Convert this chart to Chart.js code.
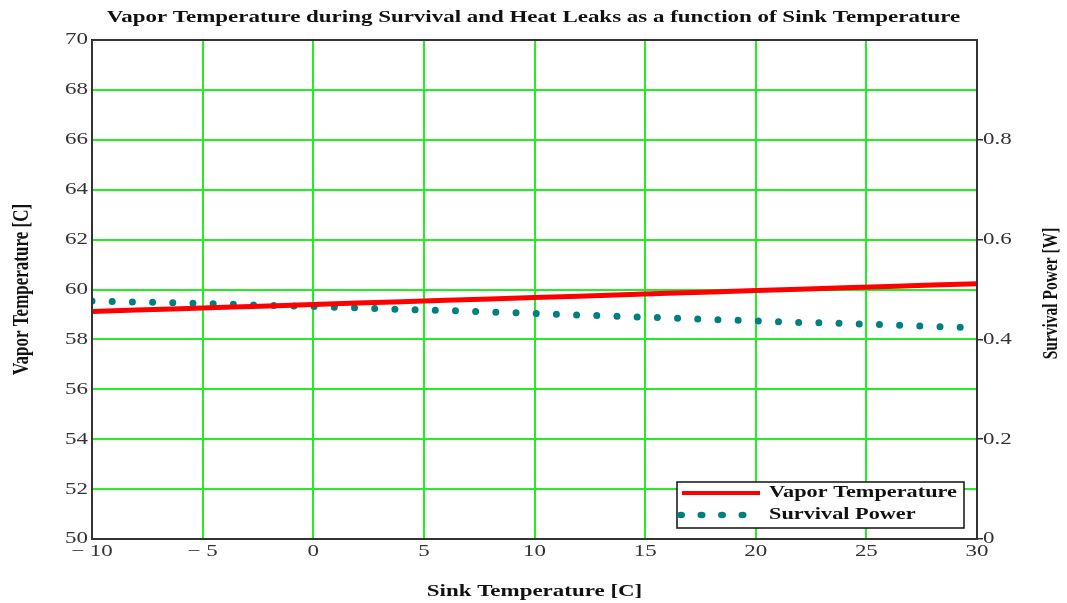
<!DOCTYPE html>
<html>
<head>
<meta charset="utf-8">
<script src="https://cdn.jsdelivr.net/npm/chart.js@4"></script>
<style>
  html, body { margin: 0; padding: 0; background: #fff; }
  #wrap { width: 1067px; height: 603px; }
</style>
</head>
<body>
<div id="wrap"><canvas id="canvas-vapor"></canvas></div>
<script>
// values
const sinkTemp = [-10, -8, -6, -4, -2, 0, 2, 4, 6, 8, 10, 12, 14, 16, 18, 20, 22, 24, 26, 28, 30];
const vaporTemp = [59.12, 59.18, 59.23, 59.29, 59.34, 59.40, 59.46, 59.51, 59.57, 59.62, 59.68,
                   59.73, 59.79, 59.85, 59.90, 59.96, 60.01, 60.07, 60.12, 60.18, 60.23];
const survivalPower = [0.477, 0.475, 0.473, 0.471, 0.468, 0.466, 0.463, 0.460, 0.458, 0.455, 0.452,
                       0.449, 0.446, 0.443, 0.440, 0.437, 0.434, 0.432, 0.429, 0.426, 0.423];
const seriesNames = ['Vapor Temperature', 'Survival Power'];

const serif = "'Liberation Serif', 'Times New Roman', serif";
const gridGreen = '#22ee22';
const textStretch = 1.35; // the original's lettering is wide

// widen every label horizontally on screen, around its anchor point
const stretchText = {
    id: 'stretchText',
    beforeInit(chart) {
        const c = chart.ctx;
        const orig = c.fillText.bind(c);
        c.fillText = function (text, x, y, maxWidth) {
            const m = c.getTransform();
            const p = m.transformPoint(new DOMPoint(x, y));
            c.save();
            c.setTransform(new DOMMatrix().translate(p.x, p.y).scale(textStretch, 1).translate(-p.x, -p.y).multiply(m));
            if (maxWidth === undefined) orig(text, x, y);
            else orig(text, x, y, maxWidth);
            c.restore();
        };
    }
};

const boxAndLegend = {
    id: 'boxAndLegend',
    afterDraw(chart) {
        const ctx = chart.ctx;
        const a = chart.chartArea;
        ctx.save();
        ctx.strokeStyle = '#333';
        ctx.lineWidth = 2;
        ctx.strokeRect(a.left, a.top, a.right - a.left, a.bottom - a.top);

        // right axis title reads bottom to top
        ctx.save();
        ctx.translate(1052, (a.top + a.bottom) / 2 + 4);
        ctx.rotate(-Math.PI / 2);
        ctx.fillStyle = '#111';
        ctx.font = 'bold 15.5px ' + serif;
        ctx.textAlign = 'center';
        ctx.textBaseline = 'middle';
        ctx.fillText('Survival Power [W]', 0, 0);
        ctx.restore();

        // legend box, bottom right inside the plot
        const bx = a.right - 300, by = a.bottom - 57, bw = 287, bh = 46;
        ctx.fillStyle = '#fff';
        ctx.fillRect(bx, by, bw, bh);
        ctx.strokeStyle = '#111';
        ctx.lineWidth = 1.5;
        ctx.strokeRect(bx, by, bw, bh);

        const ds = chart.data.datasets;
        ctx.strokeStyle = ds[0].borderColor;
        ctx.lineWidth = 4;
        ctx.beginPath();
        ctx.moveTo(bx + 5, by + 11);
        ctx.lineTo(bx + 83, by + 11);
        ctx.stroke();
        ctx.fillStyle = ds[1].borderColor;
        for (let i = 0; i < 4; i++) {
            ctx.beginPath();
            ctx.ellipse(bx + 4 + i * 20.5, by + 33, 4, 3.2, 0, 0, Math.PI * 2);
            ctx.fill();
        }
        ctx.fillStyle = '#111';
        ctx.font = 'bold 16.5px ' + serif;
        ctx.textBaseline = 'middle';
        ctx.textAlign = 'left';
        ctx.fillText(seriesNames[0], bx + 92, by + 11);
        ctx.fillText(seriesNames[1], bx + 92, by + 33);
        ctx.restore();
    }
};

const canvas = document.getElementById('canvas-vapor');
const ctx = canvas.getContext('2d');
new Chart(ctx, {
    type: 'line',
    data: {
        datasets: [{
            label: seriesNames[0],
            data: sinkTemp.map((t, i) => ({ x: t, y: vaporTemp[i] })),
            borderColor: '#ff0000',
            borderWidth: 5,
            pointRadius: 0,
            tension: 0,
            yAxisID: 'y'
        }, {
            label: seriesNames[1],
            data: sinkTemp.map((t, i) => ({ x: t, y: survivalPower[i] })),
            borderColor: '#007f7f',
            borderWidth: 7,
            borderDash: [0, 20.2],
            borderCapStyle: 'round',
            pointRadius: 0,
            tension: 0,
            yAxisID: 'y1'
        }]
    },
    options: {
        responsive: true,
        maintainAspectRatio: false,
        animation: false,
        layout: { padding: 0 },
        plugins: {
            legend: { display: false },
            tooltip: { enabled: false },
            title: {
                display: true,
                text: 'Vapor Temperature during Survival and Heat Leaks as a function of Sink Temperature',
                color: '#111',
                font: { family: serif, size: 17, weight: 'bold' },
                padding: { top: 7, bottom: 12.6 }
            }
        },
        scales: {
            x: {
                type: 'linear',
                min: -10,
                max: 30,
                ticks: {
                    stepSize: 5,
                    color: '#333',
                    font: { family: serif, size: 17 },
                    padding: 2,
                    maxRotation: 0,
                    callback: v => v < 0 ? '\u2212 ' + Math.abs(v) : String(v)
                },
                grid: { color: gridGreen, lineWidth: 2, drawTicks: false },
                border: { display: false },
                title: {
                    display: true,
                    text: 'Sink Temperature [C]',
                    color: '#111',
                    font: { family: serif, size: 17, weight: 'bold' },
                    padding: { top: 4, bottom: 1 }
                },
                afterFit: s => { s.height = 64; }
            },
            y: {
                position: 'left',
                min: 50,
                max: 70,
                ticks: {
                    stepSize: 2,
                    color: '#333',
                    font: { family: serif, size: 17 },
                    padding: 4
                },
                grid: { color: gridGreen, lineWidth: 2, drawTicks: false },
                border: { display: false },
                title: {
                    display: true,
                    text: 'Vapor Temperature [C]',
                    color: '#111',
                    font: { family: serif, size: 17, weight: 'bold' },
                    padding: { top: 12, bottom: 4 }
                },
                afterFit: s => { s.width = 92; }
            },
            y1: {
                position: 'right',
                min: 0,
                max: 1,
                ticks: {
                    stepSize: 0.2,
                    color: '#333',
                    font: { family: serif, size: 17 },
                    padding: 0,
                    callback: v => v >= 1 ? '' : String(Math.round(v * 10) / 10)
                },
                grid: {
                    drawOnChartArea: false,
                    drawTicks: true,
                    tickLength: 6,
                    lineWidth: 1.5,
                    color: c => (c.tick && c.tick.value >= 1) ? 'rgba(0,0,0,0)' : '#333'
                },
                border: { display: false },
                title: { display: false },
                afterFit: s => { s.width = 90; }
            }
        }
    },
    plugins: [stretchText, boxAndLegend]
});
</script>
</body>
</html>
